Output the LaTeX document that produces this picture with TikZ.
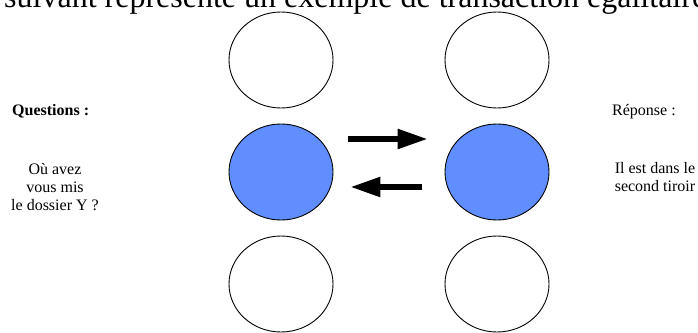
\documentclass[tikz,border=0pt]{standalone}
\usepackage{fontspec}
\setmainfont{Liberation Serif}
\usetikzlibrary{shapes.geometric,arrows.meta}

\begin{document}
\begin{tikzpicture}[x=1pt, y=-1pt,
  bulle/.style={ellipse, draw, line width=0.9pt, minimum width=104pt, minimum height=96pt, inner sep=0pt},
  pleine/.style={bulle, fill={rgb,255:red,96;green,142;blue,255}},
  fleche/.style={line width=5.5pt, -{Triangle[length=30pt,width=19pt]}},
  texte/.style={font=\fontsize{16}{18}\selectfont, align=center, inner sep=0pt, anchor=base}]
\useasboundingbox (0,0) rectangle (698,332);

% titre coupe en haut
\node[anchor=base west, inner sep=0pt, font=\fontsize{32}{36}\selectfont] (titre) at (4,7) {suivant représente un exemple de transaction égalitaire};

% les deux colonnes
\node[bulle]  (a1) at (281,60) {};
\node[pleine] (a2) at (281,172) {};
\node[bulle]  (a3) at (281,284) {};
\node[bulle]  (b1) at (497,60) {};
\node[pleine] (b2) at (497,172) {};
\node[bulle]  (b3) at (497,284) {};

\draw[fleche, shorten <=15pt, shorten >=17pt] ([yshift=33pt]a2.east) -- ([yshift=33pt]b2.west);
\draw[fleche, shorten <=23pt, shorten >=17pt] ([yshift=-15pt]b2.west) -- ([yshift=-15pt]a2.east);

% textes
\node[texte, anchor=base west, font=\fontsize{16}{18}\selectfont\bfseries] (q) at (12,115) {Questions :};
\node[texte] (qtexte) at (55,210) {Où avez\\vous mis\\le dossier Y ?};
\node[texte, anchor=base west] (r) at (612,115) {Réponse :};
\node[texte] (rtexte) at (655,191) {Il est dans le\\ second tiroir};
\end{tikzpicture}
\end{document}
